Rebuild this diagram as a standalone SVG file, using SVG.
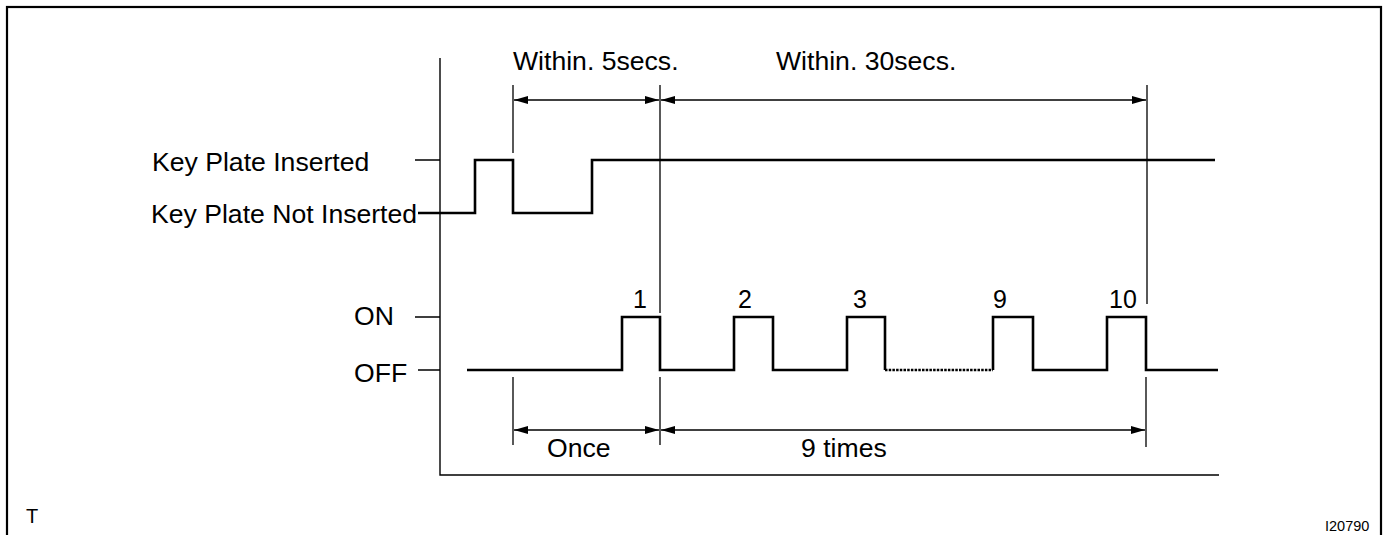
<svg xmlns="http://www.w3.org/2000/svg" width="1387" height="535" viewBox="0 0 1387 535">
<defs>
<marker id="ah" viewBox="0 0 14 8" refX="14" refY="4" markerWidth="14" markerHeight="8" markerUnits="userSpaceOnUse" orient="auto-start-reverse">
<path d="M0,0 L14,4 L0,8 Z" fill="#000"/>
</marker>
<style>
.t{font-family:"Liberation Sans",Arial,sans-serif;font-size:26.6px;fill:#000}
.n{font-family:"Liberation Sans",Arial,sans-serif;font-size:25px;fill:#000;text-anchor:middle}
.ax{stroke:#000;stroke-width:1.4;fill:none}
.sig{stroke:#000;stroke-width:2.6;fill:none}
.dim{stroke:#000;stroke-width:1.3;fill:none}
</style>
</defs>
<rect x="7" y="7" width="1374" height="560" fill="#fff" stroke="#000" stroke-width="2.2"/>
<g id="axes">
<path class="ax" d="M440,58 V475 H1219"/>
<path class="ax" d="M415,160 H440 M415,317 H440 M418,370 H440"/>
</g>
<g id="labels">
<text class="t" x="152" y="171">Key Plate Inserted</text>
<text class="t" x="151" y="223">Key Plate Not Inserted</text>
<text class="t" x="354" y="325">ON</text>
<text class="t" x="354" y="382">OFF</text>
<text class="t" x="513" y="70">Within. 5secs.</text>
<text class="t" x="776" y="70">Within. 30secs.</text>
<text class="t" x="547" y="457">Once</text>
<text class="t" x="801" y="457">9 times</text>
<text class="n" x="640" y="308">1</text>
<text class="n" x="745" y="308">2</text>
<text class="n" x="860" y="308">3</text>
<text class="n" x="1000" y="308">9</text>
<text class="n" x="1123" y="308">10</text>
<text class="t" x="26" y="523" style="font-size:20px">T</text>
<text class="t" x="1325" y="531" style="font-size:14.5px">I20790</text>
</g>
<g id="key-signal">
<path class="sig" d="M418,213 H475 V160 H513 V213 H592 V160 H1215"/>
</g>
<g id="pulse-signal">
<path class="sig" d="M467,370 H622 V317 H660 V370 H734 V317 H773 V370 H847 V317 H885 V370"/>
<path class="sig" d="M885,370 H993" stroke-dasharray="2.5,1.2"/>
<path class="sig" d="M993,370 V317 H1033 V370 H1107 V317 H1146 V370 H1218"/>
</g>
<g id="connectors">
<path class="dim" d="M513,85 V153 M660,85 V313 M1147,85 V304"/>
<path class="dim" d="M513,377 V445 M660,377 V445 M1146,377 V447"/>
<line class="dim" x1="514" y1="100" x2="659" y2="100" marker-start="url(#ah)" marker-end="url(#ah)"/>
<line class="dim" x1="661" y1="100" x2="1146" y2="100" marker-start="url(#ah)" marker-end="url(#ah)"/>
<line class="dim" x1="514" y1="430" x2="659" y2="430" marker-start="url(#ah)" marker-end="url(#ah)"/>
<line class="dim" x1="661" y1="430" x2="1145" y2="430" marker-start="url(#ah)" marker-end="url(#ah)"/>
</g>
</svg>
